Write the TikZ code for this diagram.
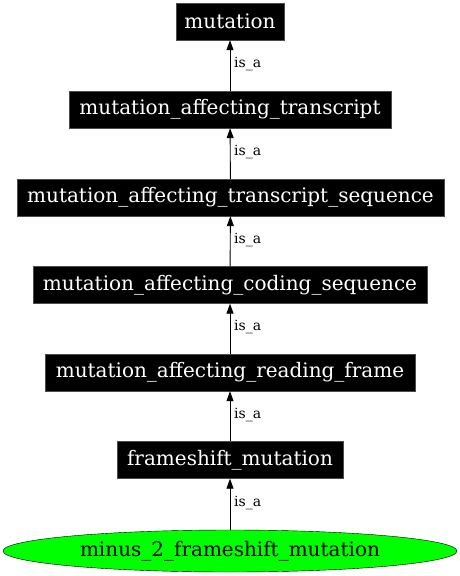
\documentclass[tikz,border=0pt]{standalone}
\usepackage{fontspec}
\setmainfont{DejaVu Serif}
\usetikzlibrary{shapes.geometric,arrows.meta}
\begin{document}
\begin{tikzpicture}[x=1pt,y=-1pt,
  term/.style={fill=black,text=white,draw=black!70,inner sep=0pt,minimum height=37pt,font=\fontsize{20}{20}\selectfont},
  leaf/.style={ellipse,fill=green,draw=black,inner sep=0pt,minimum width=454pt,minimum height=42pt,font=\fontsize{20}{20}\selectfont},
  isa/.style={draw=black,line width=0.9pt,-{Triangle[length=10pt,width=7pt]}},
  lbl/.style={font=\fontsize{14}{14}\selectfont,anchor=west,inner sep=0pt}]
\useasboundingbox (0,0) rectangle (460,576);
\node[term,minimum width=108pt] (n1) at (230,21.5) {mutation};
\node[term,minimum width=322pt] (n2) at (230,109.5) {mutation\_affecting\_transcript};
\node[term,minimum width=427pt] (n3) at (230.5,197.5) {mutation\_affecting\_transcript\_sequence};
\node[term,minimum width=394pt] (n4) at (230,285) {mutation\_affecting\_coding\_sequence};
\node[term,minimum width=370pt] (n5) at (230,372.5) {mutation\_affecting\_reading\_frame};
\node[term,minimum width=226pt] (n6) at (230,460) {frameshift\_mutation};
\node[leaf] (n7) at (230,551) {minus\_2\_frameshift\_mutation};
\draw[isa] (n2) -- (n1);
\draw[isa] (n3) -- (n2);
\draw[isa] (n4) -- (n3);
\draw[isa] (n5) -- (n4);
\draw[isa] (n6) -- (n5);
\draw[isa] (n7) -- (n6);
\node[lbl] (l1) at (234,64) {is\_a};
\node[lbl] (l2) at (234,152) {is\_a};
\node[lbl] (l3) at (234,240) {is\_a};
\node[lbl] (l4) at (234,327) {is\_a};
\node[lbl] (l5) at (234,415) {is\_a};
\node[lbl] (l6) at (234,503) {is\_a};
\end{tikzpicture}
\end{document}
